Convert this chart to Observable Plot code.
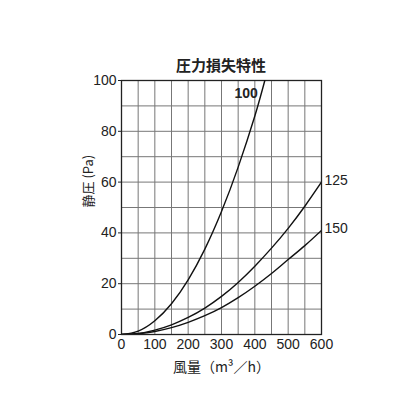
<!DOCTYPE html>
<html><head><meta charset="utf-8">
<script src="https://cdn.jsdelivr.net/npm/d3@7"></script>
<script src="https://cdn.jsdelivr.net/npm/@observablehq/plot@0.6"></script>
<style>
body{margin:0;background:#fff;}
#c{position:relative;width:416px;height:416px;}
#title{position:absolute;left:0;width:442px;top:54px;text-align:center;font-family:"Noto Sans CJK JP";font-weight:700;font-size:15px;color:#222;}
#c svg{position:absolute;left:0;top:0;}
</style></head><body>
<div id="c"><div id="title">圧力損失特性</div></div>
<script>
const titleText = "圧力損失特性";
const xLabel = "風量（m³／h）";
const yLabel = "静圧 (Pa)";
const xTicks = [0,100,200,300,400,500,600];
const yTicks = [0,20,40,60,80,100];
const xGrid = d3.range(0, 601, 50);
const yGrid = d3.range(0, 101, 10);

const flow100 = [0,50,100,150,200,250,300,350,400,430];
const p100 =    [0,1.35,5.4,12.1,21.5,33.6,48.4,65.9,86,100];
const flow125 = [0,50,100,150,200,250,300,350,400,450,500,550,600];
const p125 =    [0,0.4,1.7,3.8,6.7,10.4,15,20.5,26.9,34,41.8,50.5,60];
const flow150 = [0,50,100,150,200,250,300,350,400,450,500,550,600];
const p150 =    [0,0.3,1.2,2.7,4.8,7.4,10.6,14.5,19,24,29.5,35,41];
const seriesNames = ["100","125","150"];

const rows = [];
[[flow100,p100],[flow125,p125],[flow150,p150]].forEach(([f,p],i)=>{
  f.forEach((x,j)=>rows.push({s:seriesNames[i], x, y:p[j]}));
});
const labels = [
  {s:"100", x:374, y:95, anchor:"middle"},
  {s:"125", x:600, y:60, anchor:"start"},
  {s:"150", x:600, y:41, anchor:"start"}
];

const font = "Liberation Sans, Arial, sans-serif";
const chart = Plot.plot({
  width:416, height:416,
  marginLeft:121, marginRight:95, marginTop:80, marginBottom:82,
  style:{fontFamily:font, fontSize:"14px", color:"#222", background:"transparent"},
  x:{domain:[0,600], ticks:xTicks, label:null, tickSize:0, tickPadding:5},
  y:{domain:[0,100], ticks:yTicks, label:null, tickSize:3, tickPadding:2},
  marks:[
    Plot.ruleX(xGrid, {stroke:"#777", strokeWidth:1}),
    Plot.ruleY(yGrid, {stroke:"#777", strokeWidth:1}),
    Plot.frame({stroke:"#222", strokeWidth:1.3}),
    Plot.line(rows, {x:"x", y:"y", z:"s", curve:"natural", stroke:"#111", strokeWidth:1.4, clip:true}),
    Plot.text(labels.filter(d=>d.anchor==="middle"), {x:"x", y:"y", text:"s", fontSize:14, fontWeight:"bold", fill:"#222"}),
    Plot.text(labels.filter(d=>d.anchor==="start"), {x:"x", y:"y", text:"s", textAnchor:"start", dx:3, dy:-2, fontSize:14, fill:"#222"}),
    Plot.text([xLabel], {frameAnchor:"bottom", dy:37, fontSize:14, fill:"#222", fontFamily:"Noto Sans CJK JP"}),
    Plot.text([yLabel], {frameAnchor:"left", dx:-33, rotate:-90, fontSize:13, fill:"#222", fontFamily:"Noto Sans CJK JP"})
  ]
});
document.getElementById("c").appendChild(chart);
</script>
</body></html>
